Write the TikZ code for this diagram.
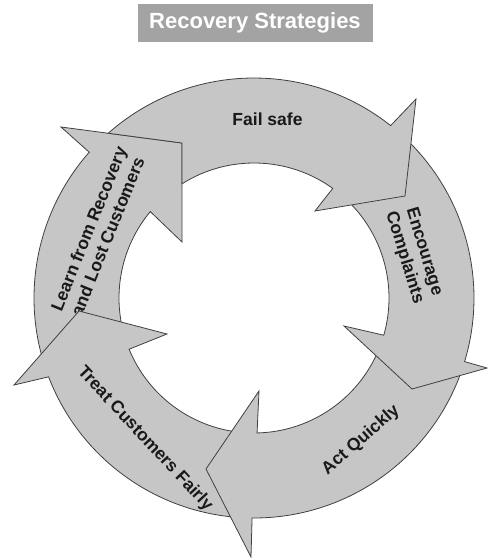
\documentclass[tikz,border=0pt]{standalone}
\usepackage{fontspec}
\setmainfont{Liberation Sans}
\usepackage{tikz}
\definecolor{ringgray}{HTML}{C6C6C6}
\definecolor{edgegray}{HTML}{404040}
\definecolor{titlegray}{HTML}{A3A3A3}
\tikzset{%
  cycle arrow/.style={
    fill=ringgray,
    draw=edgegray,
    line width=0.8pt,
    line join=miter
  },
  arrow label/.style={
    align=center,
    inner sep=0pt,
    text=black!90,
    font=\bfseries\fontsize{17.5}{20.5}\selectfont
  },
  title box/.style={
    fill=titlegray,
    text=white,
    minimum width=235pt,
    minimum height=38pt,
    font=\bfseries\fontsize{22}{24}\selectfont
  },
}

\begin{document}
\begin{tikzpicture}[x=1pt, y=1pt]
\useasboundingbox (0,0) rectangle (488,-558);
\node[title box] (title) at (255,-23) {Recovery Strategies};
\begin{scope}[shift={(254,-298)}]
   \draw[cycle arrow] (198:220) arc[start angle=198, end angle=138.5, radius=220]
      -- (-193,171) -- (-72,155) coordinate (learn tip) -- (-72,56) -- (140.2:135)
      arc[start angle=140.2, end angle=196, radius=135] -- cycle;
   \node[arrow label, rotate=68] (learn) at (-156,65.5) {Learn from Recovery\\and Lost Customers};

   \draw[cycle arrow] (266:220) arc[start angle=266, end angle=201, radius=220]
      -- (-240,-87) -- (-175,-13) -- (-87,-36) -- (202.3:135)
      arc[start angle=202.3, end angle=264, radius=135] -- cycle;
   \node[arrow label, rotate=-47] (treat) at (-109,-141) {Treat Customers Fairly};

   \draw[cycle arrow] (341.5:220) arc[start angle=341.5, end angle=269.5, radius=220]
      -- (-3,-259) -- (-48,-171) -- (5,-93) -- (271.3:135)
      arc[start angle=271.3, end angle=340, radius=135] -- cycle;
   \node[arrow label, rotate=41] (act) at (107,-142) {Act Quickly};

   \draw[cycle arrow] (46:220) arc[start angle=46, end angle=-16.8, radius=220]
      -- (233,-70) -- (158,-91) -- (90,-28) -- (-16:135)
      arc[start angle=-16, end angle=47, radius=135] -- cycle;
   \node[arrow label, rotate=-73] (encourage) at (160,43) {Encourage\\Complaints};

   \draw[cycle arrow] (131.5:220) arc[start angle=131.5, end angle=51.6, radius=220]
      -- (162,199) -- (151,102) -- (61,87) -- (54.3:135)
      arc[start angle=54.3, end angle=122.2, radius=135] -- (learn tip) -- cycle;
   \node[arrow label] (fail) at (13.5,178.5) {Fail safe};
\end{scope}
\end{tikzpicture}
\end{document}
